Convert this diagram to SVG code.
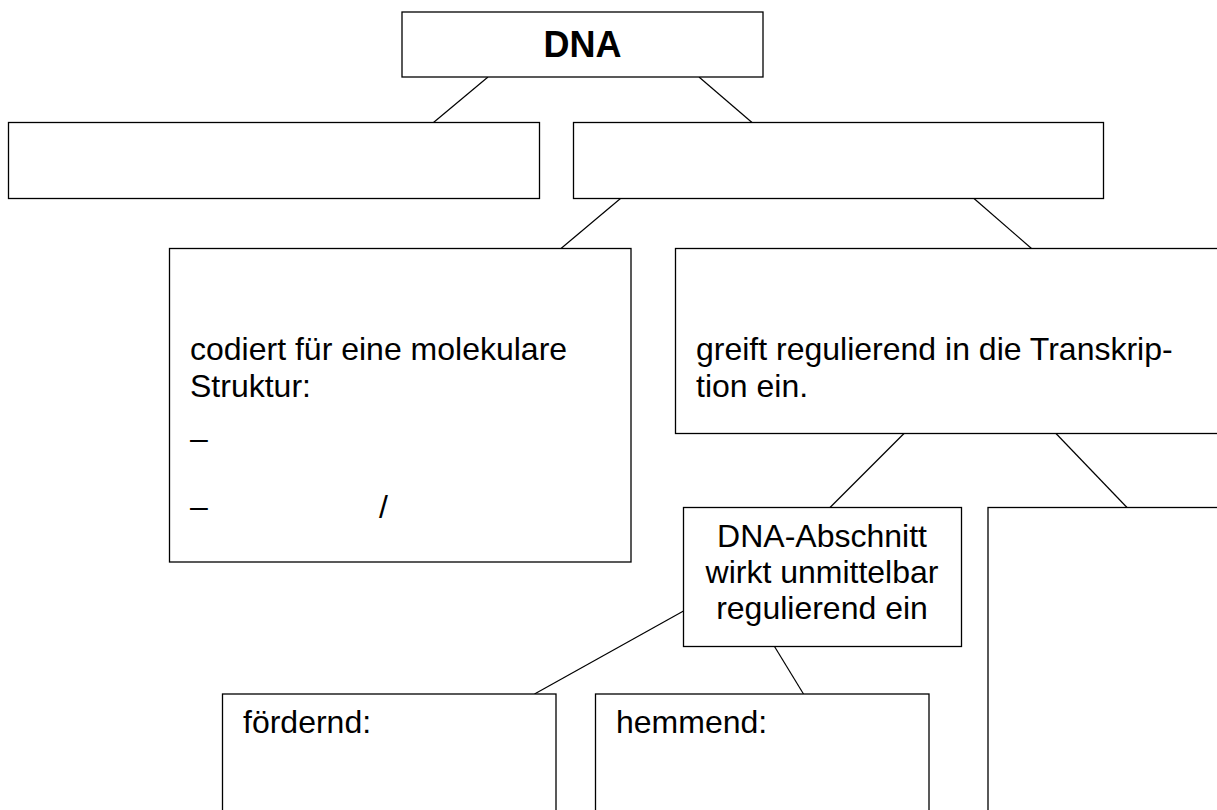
<svg xmlns="http://www.w3.org/2000/svg" width="1217" height="810" viewBox="0 0 1217 810">
<style>
.box{fill:#fff;stroke:#000;stroke-width:1.3}
.ln{stroke:#000;stroke-width:1.2;fill:none}
.t{font-family:"Liberation Sans",Arial,sans-serif;font-size:32px;fill:#000}
.b{font-weight:bold;font-size:36px}
.c{text-anchor:middle}
</style>
<rect width="1217" height="810" fill="#fff"/>
<g id="connectors">
<line class="ln" x1="488" y1="77" x2="433.5" y2="122.5"/>
<line class="ln" x1="699" y1="77" x2="752" y2="122.5"/>
<line class="ln" x1="620.5" y1="198.5" x2="561" y2="248.5"/>
<line class="ln" x1="974" y1="198.5" x2="1031.5" y2="248.5"/>
<line class="ln" x1="904" y1="433.5" x2="830" y2="507.5"/>
<line class="ln" x1="1056" y1="433.5" x2="1127" y2="507.5"/>
<line class="ln" x1="683.5" y1="611" x2="534.5" y2="694"/>
<line class="ln" x1="774.5" y1="646.5" x2="803.5" y2="694"/>
</g>
<g id="dna">
<rect class="box" x="402" y="12" width="361" height="65"/>
<text class="t b c" x="582.5" y="57">DNA</text>
</g>
<g id="left2">
<rect class="box" x="8.5" y="122.5" width="531" height="76"/>
</g>
<g id="right2">
<rect class="box" x="573.5" y="122.5" width="530" height="76"/>
</g>
<g id="codiert">
<rect class="box" x="169.5" y="248.5" width="461.5" height="313.5"/>
<text class="t" x="190" y="360">codiert für eine molekulare</text>
<text class="t" x="190" y="397">Struktur:</text>
<text class="t" x="190" y="449">–</text>
<text class="t" x="190" y="517">–</text>
<text class="t" x="379" y="518">/</text>
</g>
<g id="greift">
<rect class="box" x="675.5" y="248.5" width="560" height="185"/>
<text class="t" x="696" y="360">greift regulierend in die Transkrip-</text>
<text class="t" x="696" y="397">tion ein.</text>
</g>
<g id="abschnitt">
<rect class="box" x="683.5" y="507.5" width="278" height="139"/>
<text class="t c" x="822" y="547">DNA-Abschnitt</text>
<text class="t c" x="822" y="583">wirkt unmittelbar</text>
<text class="t c" x="822" y="619">regulierend ein</text>
</g>
<g id="tall">
<rect class="box" x="988" y="507.5" width="250" height="320"/>
</g>
<g id="foerdernd">
<rect class="box" x="222.5" y="694" width="333.5" height="130"/>
<text class="t" x="243" y="733">fördernd:</text>
</g>
<g id="hemmend">
<rect class="box" x="595.5" y="694" width="333.5" height="130"/>
<text class="t" x="616" y="733">hemmend:</text>
</g>
</svg>
